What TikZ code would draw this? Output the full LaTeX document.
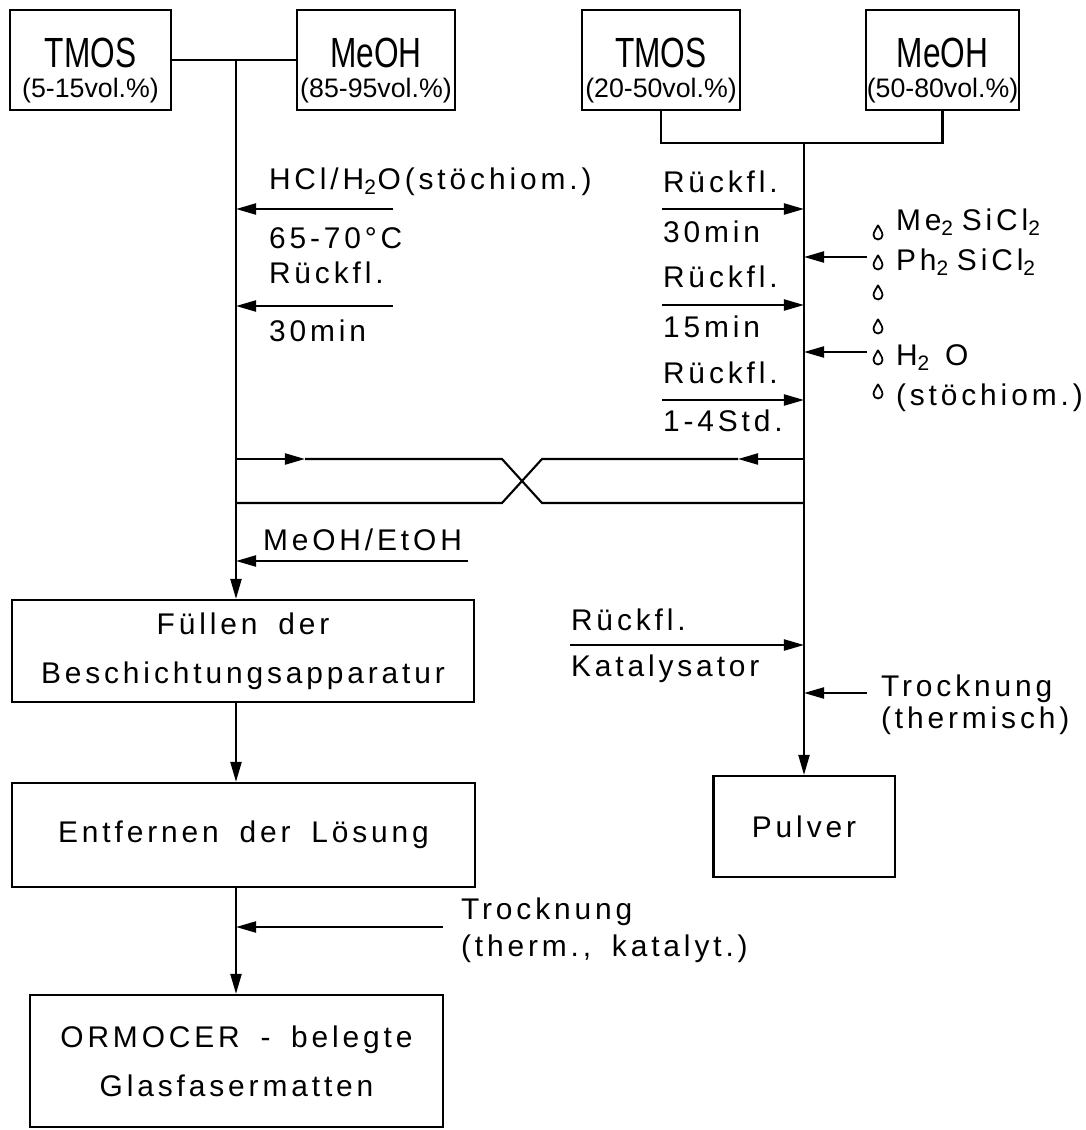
\documentclass[tikz,border=0pt]{standalone}
\usepackage{fontspec}
\usepackage{graphicx}
\setmainfont{Liberation Sans}[LetterSpace=13,WordSpace=1.7]
\newfontfamily\plainsf{Liberation Sans}
\usetikzlibrary{arrows.meta,positioning,calc}
\newcommand{\hd}[1]{{\rule{0pt}{14.3pt}\plainsf\fontsize{12}{14}\selectfont\scalebox{0.75}[1]{#1}}}
\newcommand{\volpct}[1]{{\plainsf\fontsize{7.6}{9}\selectfont #1}}
\tikzset{
  procbox/.style={draw,inner sep=0pt,align=center,font=\fontsize{8.5}{10}\selectfont},
  lbl/.style={anchor=west,inner sep=0pt,font=\fontsize{8.5}{10}\selectfont},
  drip/.pic={\draw[line width=0.5pt] (0,-8) .. controls (-1,-5) and (-4.5,-1.5) .. (-4.5,2)
    arc[start angle=180,end angle=0,radius=4.5] .. controls (4.5,-1.5) and (1,-5) .. (0,-8);}
}

\begin{document}
\begin{tikzpicture}[x=0.01cm,y=-0.01cm,line width=0.6pt,>={Triangle[length=2mm,width=1.1mm]}]
\useasboundingbox (0,0) rectangle (1086,1130);
\node[procbox,minimum width=1.61cm,minimum height=1cm] (tmosL) at (90.5,60) {\hd{TMOS}\\[-1.5pt]\volpct{(5-15vol.\%)}};
\node[procbox,minimum width=1.58cm,minimum height=1cm] (meohL) at (376,60) {\hd{MeOH}\\[-1.5pt]\volpct{(85-95vol.\%)}};
\node[procbox,minimum width=1.58cm,minimum height=1cm] (tmosR) at (661,60) {\hd{TMOS}\\[-1.5pt]\volpct{(20-50vol.\%)}};
\node[procbox,minimum width=1.53cm,minimum height=1cm] (meohR) at (942.5,60) {\hd{MeOH}\\[-1.5pt]\volpct{(50-80vol.\%)}};
\node[procbox,minimum width=4.62cm,minimum height=1.02cm] (fuell) at (243,651) {Füllen der\\[4pt]Beschichtungsapparatur};
\node[procbox,minimum width=4.63cm,minimum height=1.04cm] (entf) at (243.5,835) {Entfernen der Lösung};
\node[procbox,minimum width=4.13cm,minimum height=1.32cm] (ormo) at (236.5,1061) {ORMOCER - belegte\\[4pt]Glasfasermatten};
\node[procbox,minimum width=1.81cm,minimum height=1.01cm] (pulver) at (804,826.5) {Pulver};
\coordinate (jL) at (236,60);
\coordinate (jR) at (804,143);
\draw (tmosL) -- (meohL);
\draw (tmosR) |- (jR) -| (meohR);
\draw[->] (jL) -- (jL |- fuell.north);
\draw[->] (jR) -- (jR |- pulver.north);
\draw[->] (fuell.south -| jL) -- (entf.north -| jL);
\draw[->] (entf.south -| jL) -- (ormo.north -| jL);
\node[lbl] (hclTop) at (268,182) {HCl/H\textsubscript{2}O(stöchiom.)};
\node[lbl] (hclBot) at (268,238) {65-70°C};
\node[lbl] (rfLTop) at (268,273) {Rückfl.};
\node[lbl] (rfLBot) at (268,331) {30min};
\coordinate (hclS) at (393,209);
\coordinate (rfLS) at (393,306);
\draw[->] (hclS) -- (hclS -| jL);
\draw[->] (rfLS) -- (rfLS -| jL);
\node[lbl] (rfR1) at (662,182) {Rückfl.};
\node[lbl] (minR1) at (662,232) {30min};
\node[lbl] (rfR2) at (662,277) {Rückfl.};
\node[lbl] (minR2) at (662,327) {15min};
\node[lbl] (rfR3) at (662,373) {Rückfl.};
\node[lbl] (stdR3) at (662,421) {1-4Std.};
\coordinate (rS1) at (662,209);
\coordinate (rS2) at (662,305);
\coordinate (rS3) at (662,400);
\draw[->] (rS1) -- (rS1 -| jR);
\draw[->] (rS2) -- (rS2 -| jR);
\draw[->] (rS3) -- (rS3 -| jR);
\foreach \yy in {233,263,293,327,358,392}
  \pic at (878,\yy) {drip};
\node[lbl] (meSi) at (895,222) {Me\textsubscript{2}\hspace{2pt}SiCl\textsubscript{2}};
\node[lbl] (phSi) at (895,262) {Ph\textsubscript{2}\hspace{2pt}SiCl\textsubscript{2}};
\node[lbl] (hzo) at (895,358) {H\textsubscript{2}\hspace{4pt}O};
\node[lbl] (stoe) at (895,398) {(stöchiom.)};
\coordinate (dS1) at (867,257);
\coordinate (dS2) at (867,352);
\draw[->] (dS1) -- (dS1 -| jR);
\draw[->] (dS2) -- (dS2 -| jR);
\coordinate (xa) at (502,459);
\coordinate (xb) at (542,459);
\coordinate (xc) at (502,503);
\coordinate (xd) at (542,503);
\coordinate (tipL) at (305,459);
\coordinate (tipR) at (738,459);
\draw[->] (jL |- xa) -- (tipL);
\draw (tipL) -- (xa) -- (xd) -- (jR |- xd);
\draw[->] (jR |- xb) -- (tipR);
\draw (tipR) -- (xb) -- (xc) -- (jL |- xc);
\node[lbl] (solv) at (262,540) {MeOH/EtOH};
\coordinate (solvS) at (468,561);
\draw[->] (solvS) -- (solvS -| jL);
\node[lbl] (rfK) at (570,620) {Rückfl.};
\node[lbl] (kat) at (570,669) {Katalysator};
\coordinate (katS) at (570,645);
\draw[->] (katS) -- (katS -| jR);
\node[lbl] (trkR) at (880,689) {Trocknung};
\node[lbl] (thermR) at (880,721) {(thermisch)};
\coordinate (trkRS) at (867,693);
\draw[->] (trkRS) -- (trkRS -| jR);
\node[lbl] (trkL) at (460,912) {Trocknung};
\node[lbl] (thermL) at (460,949) {(therm., katalyt.)};
\coordinate (trkLS) at (443,927);
\draw[->] (trkLS) -- (trkLS -| jL);
\end{tikzpicture}
\end{document}
